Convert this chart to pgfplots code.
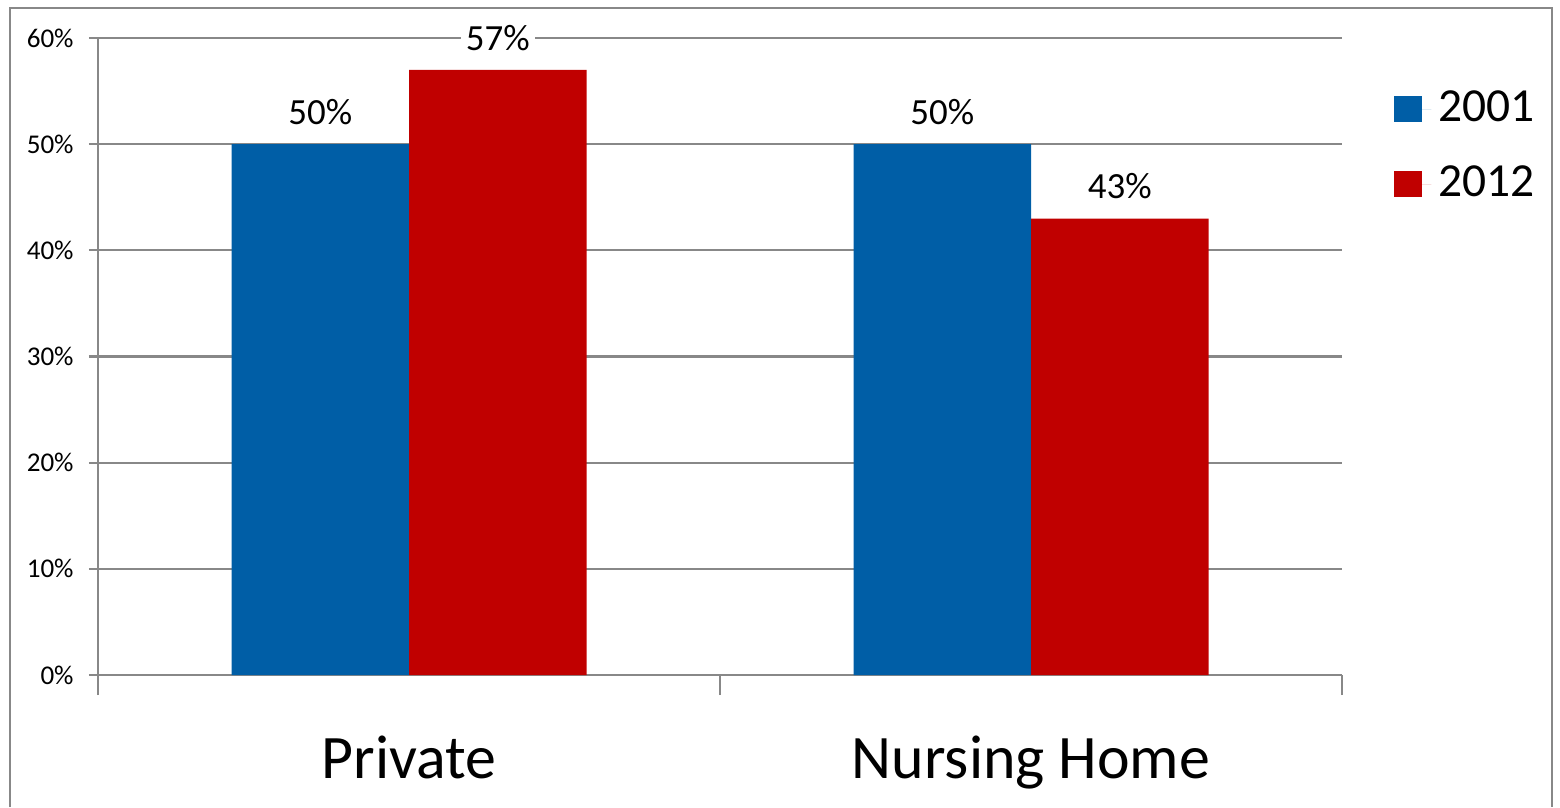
\documentclass[border=0pt]{standalone}
\usepackage{pgfplots}
\pgfplotsset{compat=1.18}
\usepackage{fontspec}
\setmainfont{Carlito}
\definecolor{bblue}{HTML}{005EA6}
\definecolor{bred}{HTML}{C00000}
\definecolor{lgray}{HTML}{888888}
\begin{document}
\begin{tikzpicture}
\useasboundingbox (-0.98cm,-1.32cm) rectangle (14.62cm,6.75cm);
\draw[lgray, line width=0.7pt] (-0.88cm,-1.32cm) -- (-0.88cm,6.67cm) -- (14.54cm,6.67cm) -- (14.54cm,-1.32cm);
\begin{axis}[
    at={(0,0)}, anchor=south west,
    scale only axis,
    width=12.44cm, height=6.37cm,
    ybar=0pt, bar width=1.775cm,
    xmin=-0.5, xmax=1.5,
    ymin=0, ymax=60,
    xtick={-0.5,0.5,1.5}, xticklabels={},
    ytick={0,10,20,30,40,50,60},
    minor ytick={0,10,20,30,40,50,60},
    yticklabel={\pgfmathprintnumber{\tick}\%},
    /pgf/number format/assume math mode=true,
    yticklabel style={font=\fontsize{7.7}{9}\selectfont, xshift=0.08cm},
    tick align=outside,
    major tick length=0.2cm, minor tick length=0.09cm,
    x tick style={lgray, line width=0.6pt},
    y tick style={draw=none},
    minor y tick style={draw=lgray, line width=0.6pt},
    axis x line*=bottom, axis y line*=left,
    axis line style={lgray, line width=0.6pt, -},
    ymajorgrids=true,
    grid style={lgray, line width=0.6pt},
    nodes near coords={\pgfmathprintnumber{\pgfplotspointmeta}\%},
    every node near coord/.append style={font=\fontsize{10.5}{12}\selectfont, anchor=center, yshift=0.32cm, fill=white, inner sep=1.5pt, text=black},
    legend style={at={(1.033,0.94)}, anchor=north west, draw=none, fill=none,
        font=\fontsize{13.5}{16}\selectfont, row sep=2.5mm},
    legend cell align=left,
    legend image code/.code={\fill[#1] (0cm,-0.13cm) rectangle (0.28cm,0.13cm); \path (0cm,0cm) -- (0.37cm,0cm);},
    clip=false,
]
\addplot[fill=bblue, draw=none] coordinates {(0,50) (1,50)};
\addlegendentry{2001}
\addplot[fill=bred, draw=none] coordinates {(0,57) (1,43)};
\addlegendentry{2012}
\node[anchor=base, font=\fontsize{17.6}{20}\selectfont] at (axis cs:0,0) [yshift=-1.03cm] {Private};
\node[anchor=base, font=\fontsize{17.6}{20}\selectfont] at (axis cs:1,0) [yshift=-1.03cm] {Nursing Home};
\end{axis}
\end{tikzpicture}
\end{document}
